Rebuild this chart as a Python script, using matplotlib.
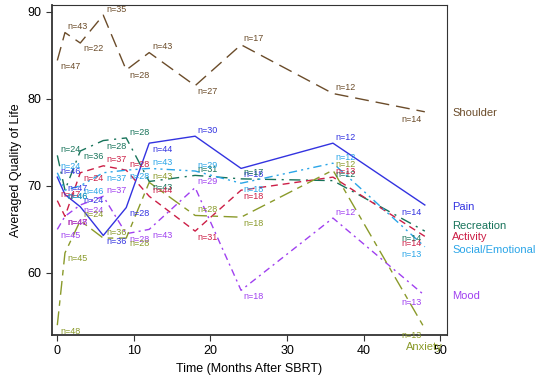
import numpy as np
import matplotlib.pyplot as plt

plt.rcParams['font.family'] = ['Liberation Sans', 'DejaVu Sans']

months = [0, 1, 3, 6, 9, 12, 18, 24, 36, 48]

shoulder = [84.4, 87.6, 86.4, 89.6, 83.3, 85.3, 81.5, 86.2, 80.6, 78.5]
pain = [71.0, 69.0, 67.6, 64.3, 67.5, 74.9, 75.7, 72.0, 74.9, 67.8]
recreation = [73.5, 69.5, 74.0, 75.2, 75.5, 70.5, 71.2, 70.8, 70.6, 64.8]
activity = [68.3, 66.5, 71.5, 72.3, 71.8, 68.8, 64.8, 69.5, 71.0, 64.2]
social = [71.5, 69.5, 70.0, 71.5, 71.8, 72.0, 71.7, 70.3, 72.6, 63.0]
mood = [65.0, 66.5, 67.8, 68.8, 64.5, 65.0, 69.8, 58.0, 66.3, 57.4]
anxiety = [54.0, 62.3, 66.0, 64.0, 64.0, 70.4, 66.6, 66.4, 71.8, 53.6]

n_shoulder = [47, 43, 22, 35, 28, 43, 27, 17, 12, 14]
n_pain = [46, 47, 24, 36, 28, 44, 30, 18, 12, 14]
n_recreation = [24, 46, 36, 28, 28, 43, 31, 17, 12, 14]
n_activity = [47, 47, 24, 37, 28, 44, 31, 18, 13, 14]
n_social = [24, 46, 46, 37, 28, 43, 29, 18, 12, 13]
n_mood = [45, 48, 24, 37, 28, 43, 29, 18, 12, 13]
n_anxiety = [48, 45, 24, 36, 28, 43, 28, 18, 12, 13]

names = ["Shoulder", "Pain", "Recreation", "Activity", "Social/Emotional", "Mood", "Anxiety"]
values = [shoulder, pain, recreation, activity, social, mood, anxiety]
counts = [n_shoulder, n_pain, n_recreation, n_activity, n_social, n_mood, n_anxiety]

colors = ["#6b4c2a", "#3333e0", "#17735a", "#cc1e46", "#2aa5e8", "#a040f0", "#8a9a2a"]
dashes = [(10, 5), (), (8, 4, 1.5, 4), (5, 3.5), (6, 3, 1.5, 3, 1.5, 3),
          (5, 3, 1.5, 3), (10, 4, 4, 4)]
# y positions of the labels on the right, in data units
label_y = [78.35, 67.55, 65.4, 64.1, 62.6, 57.4, None]

fig = plt.figure(figsize=(5.36, 3.81), dpi=100)
ax = fig.add_axes([0.0965, 0.1207, 0.7375, 0.8663])

for name, y, n, c, d, ly in zip(names, values, counts, colors, dashes, label_y):
    line, = ax.plot(months, y, color=c, lw=1.0)
    if d:
        line.set_dashes(d)
    for i in range(len(months)):
        if i == len(months) - 1:
            off, va, ha = (-2, -2), "top", "right"
        elif y[i] >= y[i + 1]:
            off, va, ha = (2, 1), "bottom", "left"
        else:
            off, va, ha = (2, -1), "top", "left"
        ax.annotate(f"n={n[i]}", (months[i], y[i]), xytext=off,
                    textcoords="offset points", fontsize=6.5, color=c,
                    va=va, ha=ha)
    if ly is not None:
        ax.text(51.6, ly, name, color=c, fontsize=8, va="center",
                ha="left", clip_on=False)

ax.text(48.0, 51.5, "Anxiety", color=colors[-1], fontsize=8, va="center",
        ha="center", clip_on=False)

ax.set_xlim(-0.73, 50.9)
ax.set_ylim(52.87, 90.77)
ax.set_xticks([0, 10, 20, 30, 40, 50])
ax.set_yticks([60, 70, 80, 90])
ax.tick_params(labelsize=9, length=4, width=0.8, color="#333333")
ax.set_xlabel("Time (Months After SBRT)", fontsize=9)
ax.set_ylabel("Averaged Quality of Life", fontsize=9)
for s in ["left", "bottom"]:
    ax.spines[s].set_linewidth(1.3)
    ax.spines[s].set_color("#333333")
for s in ["top", "right"]:
    ax.spines[s].set_linewidth(0.8)
    ax.spines[s].set_color("#333333")

fig.savefig("out.png", dpi=100)
